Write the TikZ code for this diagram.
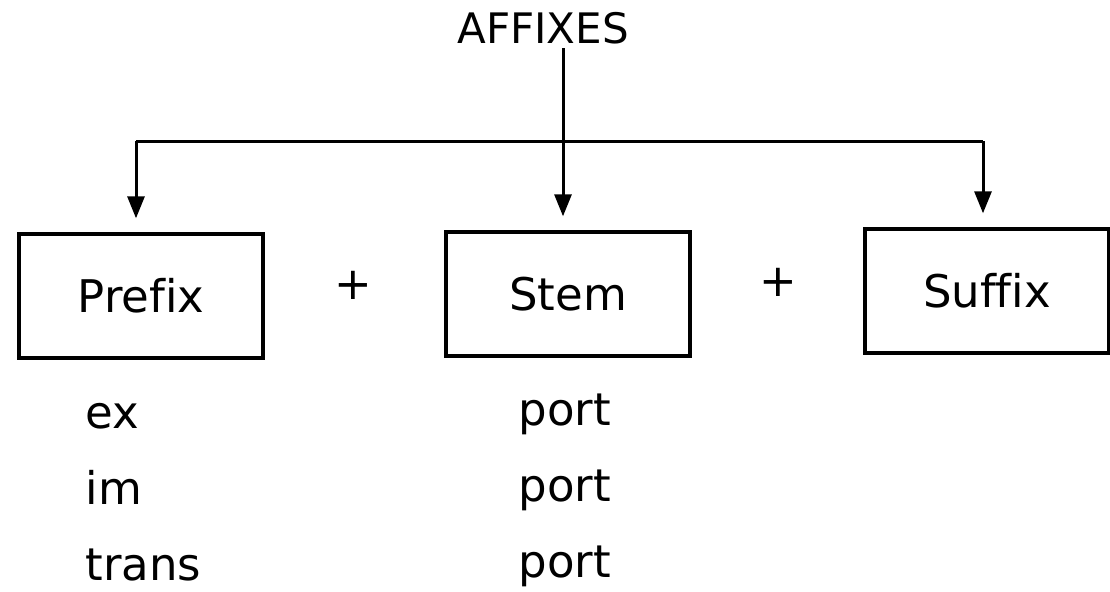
\documentclass[tikz,border=0pt]{standalone}
\usepackage{fontspec}
\setmainfont{DejaVu Sans}[Ligatures=NoCommon]
\usepackage{tikz}
\usetikzlibrary{arrows.meta}

\begin{document}
\begin{tikzpicture}[x=0.5pt,y=-0.5pt,
        line width=1.5pt,
        part/.style={draw,line width=1.7pt,minimum width=122pt,minimum height=62pt,inner sep=0pt,font=\fontsize{22.5}{27}\selectfont},
        word/.style={anchor=base west,inner sep=0pt,font=\fontsize{22.5}{27}\selectfont},
        arr/.style={-{Triangle[length=11pt,width=8.5pt]},shorten >=7pt}]
            \useasboundingbox (0,0) rectangle (1110,591);
            \begin{scope}
                \node[anchor=base,inner sep=0pt,font=\fontsize{21}{25}\selectfont] (affixes) at (543,43) {AFFIXES};
                \node[part] (prefix) at (141,296) {Prefix};
                \node[part] (stem) at (568,294) {Stem};
                \node[part] (suffix) at (987,291) {Suffix};
                \node[inner sep=0pt,font=\fontsize{22.5}{27}\selectfont] (plusA) at (353,285) {+};
                \node[inner sep=0pt,font=\fontsize{22.5}{27}\selectfont] (plusB) at (778,282) {+};
                \coordinate (top) at (563,48);
                \coordinate (M) at (563,141);
                \coordinate (L) at (136,141);
                \coordinate (R) at (983,141);
                \draw (top) -- (M);
                \draw (L) -- (R);
                \draw[arr] (L) -- (L |- prefix.north);
                \draw[arr] (M) -- (M |- stem.north);
                \draw[arr] (R) -- (R |- suffix.north);
                \node[word] (ex) at (84,428) {ex};
                \node[word] (im) at (84,504) {im};
                \node[word] (trans) at (84,580) {trans};
                \node[word] (portA) at (517,425) {port};
                \node[word] (portB) at (517,501) {port};
                \node[word] (portC) at (517,577) {port};
            \end{scope}
        \end{tikzpicture}
\end{document}
